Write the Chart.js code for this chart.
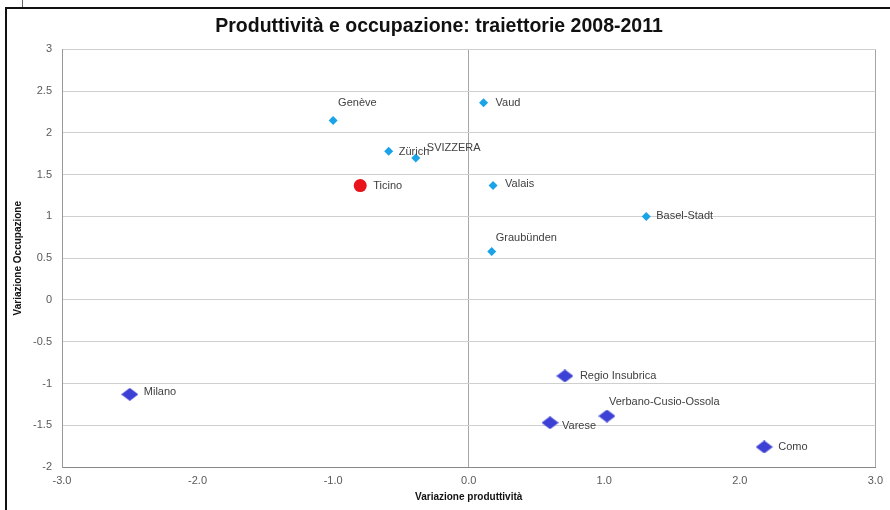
<!DOCTYPE html>
<html>
<head>
<meta charset="utf-8">
<script src="https://cdn.jsdelivr.net/npm/chart.js@4"></script>
<style>
  body { margin: 0; background: #fff; }
  #wrap { position: relative; width: 890px; height: 510px; }
  #frame { position: absolute; left: 5px; top: 7px; right: -10px; bottom: -10px;
           border-left: 2.5px solid #111; border-top: 2.5px solid #111; pointer-events: none; }
  #tick { position: absolute; left: 22px; top: 0; width: 1px; height: 7px; background: #666; }
</style>
</head>
<body>
<div id="wrap">
  <canvas id="scatter" width="890" height="510"></canvas>
  <div id="frame"></div>
  <div id="tick"></div>
</div>
<script>
// dati: variazione produttività (x) e variazione occupazione (y)
const swissNames = ['Genève', 'Zürich', 'SVIZZERA', 'Vaud', 'Valais', 'Basel-Stadt', 'Graubünden'];
const swissX = [-1.0, -0.59, -0.39, 0.11, 0.18, 1.31, 0.17];
const swissY = [2.15, 1.78, 1.70, 2.36, 1.37, 1.00, 0.58];

const ticinoNames = ['Ticino'];
const ticinoX = [-0.80];
const ticinoY = [1.37];

const italyNames = ['Milano', 'Regio Insubrica', 'Verbano-Cusio-Ossola', 'Varese', 'Como'];
const italyX = [-2.50, 0.71, 1.02, 0.60, 2.18];
const italyY = [-1.13, -0.91, -1.39, -1.47, -1.76];

// spostamento delle etichette rispetto al punto (dx, dy in pixel)
const labelOffsets = {
    'Genève': [5, -17], 'Zürich': [10, 1], 'SVIZZERA': [11, -10], 'Vaud': [12, 0],
    'Valais': [12, -2], 'Basel-Stadt': [10, 0], 'Graubünden': [4, -14], 'Ticino': [13, 0],
    'Milano': [14, -2], 'Regio Insubrica': [15, 0], 'Verbano-Cusio-Ossola': [2, -14],
    'Varese': [12, 3], 'Como': [14, 0]
};

const toPoints = (xs, ys) => xs.map((x, i) => ({ x: x, y: ys[i] }));

// rombo schiacciato per le province italiane
function flatDiamond(w, h, color) {
    const c = document.createElement('canvas');
    c.width = w; c.height = h;
    const g = c.getContext('2d');
    g.fillStyle = color;
    g.beginPath();
    g.moveTo(w / 2, 0);
    g.lineTo(w, h / 2);
    g.lineTo(w / 2, h);
    g.lineTo(0, h / 2);
    g.closePath();
    g.fill();
    return c;
}

const pointLabels = {
    id: 'pointLabels',
    afterDatasetsDraw(chart) {
        const ctx = chart.ctx;
        ctx.save();
        ctx.font = '11px "Liberation Sans", Arial, sans-serif';
        ctx.fillStyle = '#404040';
        ctx.textBaseline = 'middle';
        ctx.textAlign = 'left';
        chart.data.datasets.forEach((ds, di) => {
            const meta = chart.getDatasetMeta(di);
            meta.data.forEach((pt, i) => {
                const name = ds.names[i];
                const off = labelOffsets[name] || [10, 0];
                ctx.fillText(name, pt.x + off[0], pt.y + off[1]);
            });
        });
        ctx.restore();
    }
};

Chart.defaults.font.family = '"Liberation Sans", Arial, sans-serif';
Chart.defaults.color = '#595959';

new Chart(document.getElementById('scatter').getContext('2d'), {
    type: 'scatter',
    data: {
        datasets: [{
            label: 'Svizzera',
            names: swissNames,
            data: toPoints(swissX, swissY),
            pointStyle: 'rectRot',
            radius: 4.5,
            backgroundColor: '#1aa3e6',
            borderWidth: 0
        }, {
            label: 'Ticino',
            names: ticinoNames,
            data: toPoints(ticinoX, ticinoY),
            pointStyle: 'circle',
            radius: 6.5,
            backgroundColor: '#e8131b',
            borderWidth: 0
        }, {
            label: 'Italia',
            names: italyNames,
            data: toPoints(italyX, italyY),
            pointStyle: flatDiamond(17, 13, '#3d40d4'),
            radius: 8,
            backgroundColor: '#3d40d4',
            borderWidth: 0
        }]
    },
    options: {
        responsive: false,
        animation: false,
        layout: { padding: { left: 0, right: 12, top: 0, bottom: 0 } },
        plugins: {
            legend: { display: false },
            tooltip: { enabled: false },
            title: {
                display: true,
                text: 'Produttività e occupazione: traiettorie 2008-2011',
                color: '#111',
                font: { size: 19.5, weight: 'bold' },
                padding: { top: 15, bottom: 11 }
            }
        },
        scales: {
            x: {
                type: 'linear',
                min: -3, max: 3,
                afterFit: (s) => { s.height = 43; },
                ticks: {
                    stepSize: 1,
                    padding: 7,
                    font: { size: 11 },
                    callback: (v) => v.toFixed(1)
                },
                grid: {
                    drawTicks: false,
                    color: (c) => (c.tick && (c.tick.value === 0 || c.tick.value === 3)) ? '#a6a6a6' : 'transparent'
                },
                border: { color: '#888', width: 1 },
                title: {
                    display: true,
                    text: 'Variazione produttività',
                    color: '#111',
                    font: { size: 10, weight: 'bold' },
                    padding: { top: 0, bottom: 7 }
                }
            },
            y: {
                type: 'linear',
                min: -2, max: 3,
                afterFit: (s) => { s.width = 62; },
                ticks: {
                    stepSize: 0.5,
                    padding: 10,
                    font: { size: 11 },
                    callback: (v) => String(v)
                },
                grid: { drawTicks: false, color: '#cfcfcf' },
                border: { color: '#999', width: 1 },
                title: {
                    display: true,
                    text: 'Variazione Occupazione',
                    color: '#111',
                    font: { size: 10, weight: 'bold' },
                    padding: { top: 12, bottom: 0 }
                }
            }
        }
    },
    plugins: [pointLabels]
});
</script>
</body>
</html>
